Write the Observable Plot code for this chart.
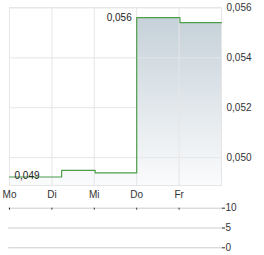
<!DOCTYPE html>
<html>
<head>
<meta charset="utf-8">
<script src="https://cdn.jsdelivr.net/npm/d3@7"></script>
<script src="https://cdn.jsdelivr.net/npm/@observablehq/plot@0.6"></script>
<style>
  body { margin: 0; background: #fff; }
  #chart svg { display: block; }
</style>
</head>
<body>
<div id="chart"></div>
<script>
const dayLabels = ["Mo", "Di", "Mi", "Do", "Fr"];
const dayPos = [0, 1, 2, 3, 4];
const stepX = [0, 1.23, 2.02, 3, 4.02, 5];
const stepV = [0.04922, 0.04949, 0.04939, 0.05561, 0.05541, 0.05541];
const yTicks = [0.050, 0.052, 0.054, 0.056];
const volTicks = [0, 5, 10];
const maxLabel = "0,056";
const minLabel = "0,049";

const yMin = 0.04888, yMax = 0.05602;
const data = stepX.map((x, i) => ({x, v: stepV[i]}));
const fmt = d => d3.format(".3f")(d).replace(".", ",");
const font = "Arial, 'Liberation Sans', sans-serif";

const main = Plot.plot({
  width: 264, height: 200,
  marginLeft: 9, marginRight: 43, marginTop: 7, marginBottom: 15,
  style: {fontFamily: font, fontSize: "10px", color: "#333", background: "transparent"},
  x: {domain: [0, 5], axis: null},
  y: {domain: [yMin, yMax], axis: null},
  marks: [
    Plot.areaY(data, {x: "x", y1: () => yMin, y2: "v", curve: "step-after", fill: "url(#grad)"}),
    Plot.ruleY(yTicks, {stroke: "#e6e6e6"}),
    Plot.ruleX(dayPos, {stroke: "#e6e6e6"}),
    Plot.frame({stroke: "#e6e6e6"}),
    Plot.line(data, {x: "x", y: "v", curve: "step-after", stroke: "#4c9e4c", strokeWidth: 1.2}),
    Plot.text([data[3]], {x: "x", y: "v", text: () => maxLabel, textAnchor: "end", dx: -5, fill: "#222"}),
    Plot.text([data[0]], {x: "x", y: "v", text: () => minLabel, textAnchor: "start", dx: 5, dy: -1, fill: "#222"}),
    Plot.axisY(yTicks, {anchor: "right", tickSize: 0, tickPadding: 5, tickFormat: fmt, fill: "#333", label: null}),
    Plot.axisX(dayPos, {anchor: "bottom", tickSize: 0, tickPadding: 5, tickFormat: i => dayLabels[i], fill: "#333", label: null})
  ]
});

const svgSel = d3.select(main);
const defs = svgSel.insert("defs", ":first-child");
const g = defs.append("linearGradient").attr("id", "grad").attr("x1", 0).attr("y1", 0).attr("x2", 0).attr("y2", 1).attr("gradientUnits", "objectBoundingBox");
g.append("stop").attr("offset", "0%").attr("stop-color", "#c6d1d9");
g.append("stop").attr("offset", "100%").attr("stop-color", "#fafbfc");

const vol = Plot.plot({
  width: 264, height: 55,
  marginLeft: 9, marginRight: 43, marginTop: 7.7, marginBottom: 7.7,
  style: {fontFamily: font, fontSize: "10px", color: "#333", background: "transparent"},
  x: {domain: [0, 5], axis: null},
  y: {domain: [0, 10], axis: null},
  marks: [
    Plot.ruleY(volTicks, {x1: -0.02, x2: 5.05, stroke: "#cccccc"}),
    Plot.ruleX(dayPos, {y1: 10, y2: 9.5, stroke: "#333"}),
    Plot.axisY(volTicks, {anchor: "right", tickSize: 3, tickPadding: 1, stroke: "#333", fill: "#333", label: null})
  ]
});

document.getElementById("chart").append(main, vol);
</script>
</body>
</html>
